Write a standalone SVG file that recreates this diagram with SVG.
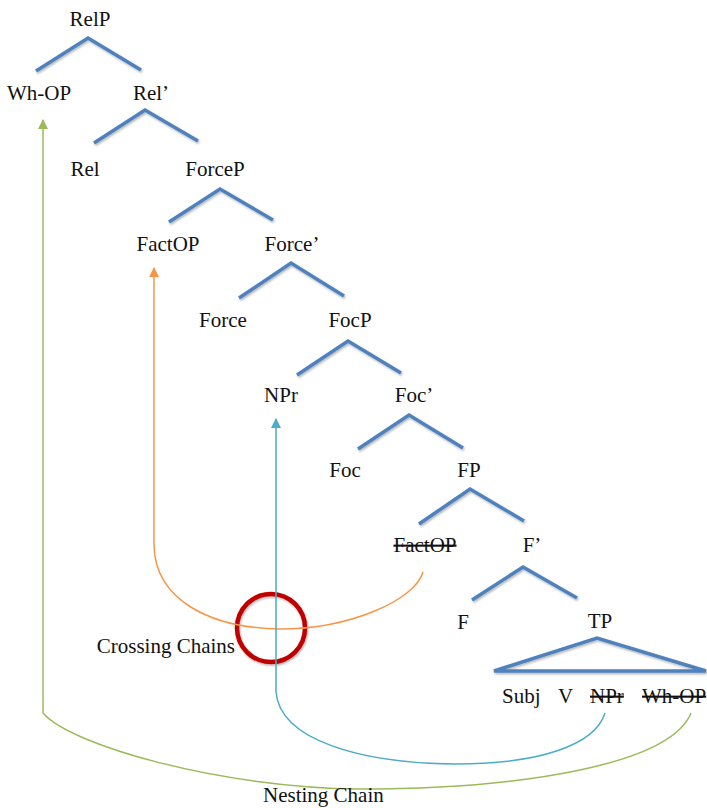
<svg xmlns="http://www.w3.org/2000/svg" width="707" height="808" viewBox="0 0 707 808">
<style>
text{font-family:"Liberation Serif","Times New Roman",serif;font-size:21px;fill:#111;}
.c{text-anchor:middle;}
.s{text-decoration:line-through;}
.br{fill:none;stroke:#4f81bd;stroke-width:3.5;stroke-linejoin:miter;}
.ch{fill:none;stroke-width:1.5;}
</style>
<defs>
<filter id="sh" x="-20%" y="-20%" width="140%" height="140%"><feDropShadow dx="1" dy="1.5" stdDeviation="1" flood-color="#000" flood-opacity="0.3"/></filter>
<marker id="ag" viewBox="0 0 10 10" refX="9" refY="5" markerWidth="10" markerHeight="10" markerUnits="userSpaceOnUse" orient="auto"><path d="M0,0L10,5L0,10z" fill="#9bbb59"/></marker>
<marker id="ab" viewBox="0 0 10 10" refX="9" refY="5" markerWidth="10" markerHeight="10" markerUnits="userSpaceOnUse" orient="auto"><path d="M0,0L10,5L0,10z" fill="#4bacc6"/></marker>
<marker id="ao" viewBox="0 0 10 10" refX="9" refY="5" markerWidth="10" markerHeight="10" markerUnits="userSpaceOnUse" orient="auto"><path d="M0,0L10,5L0,10z" fill="#f79646"/></marker>
</defs>
<g id="branches" filter="url(#sh)">
<polyline class="br" points="36,71 88,38 141,70"/>
<polyline class="br" points="94,143 145,110 198,141"/>
<polyline class="br" points="169,222 220,189 273,220"/>
<polyline class="br" points="239,298 291,263 344,296"/>
<polyline class="br" points="297,375 348,341 401,373"/>
<polyline class="br" points="358,449 409,415 463,448"/>
<polyline class="br" points="419,524 470,489 524,521"/>
<polyline class="br" points="472,600 523,567 577,598"/>
<polygon class="br" points="494,671 597,638 706,671"/>
</g>
<g id="n-RelP"><text class="c" x="90" y="26">RelP</text></g>
<g id="n-WhOP"><text class="c" x="39" y="100">Wh-OP</text></g>
<g id="n-RelBar"><text class="c" x="151" y="100">Rel’</text></g>
<g id="n-Rel"><text class="c" x="85" y="176">Rel</text></g>
<g id="n-ForceP"><text class="c" x="215" y="176">ForceP</text></g>
<g id="n-FactOP"><text class="c" x="168" y="251">FactOP</text></g>
<g id="n-ForceBar"><text class="c" x="292" y="251">Force’</text></g>
<g id="n-Force"><text class="c" x="223" y="327">Force</text></g>
<g id="n-FocP"><text class="c" x="350" y="327">FocP</text></g>
<g id="n-NPr"><text class="c" x="281" y="402">NPr</text></g>
<g id="n-FocBar"><text class="c" x="414" y="402">Foc’</text></g>
<g id="n-Foc"><text class="c" x="345" y="477">Foc</text></g>
<g id="n-FP"><text class="c" x="469" y="477">FP</text></g>
<g id="n-FactOP-trace"><text class="c s" x="425" y="552">FactOP</text></g>
<g id="n-FBar"><text class="c" x="532" y="552">F’</text></g>
<g id="n-F"><text class="c" x="463" y="629">F</text></g>
<g id="n-TP"><text class="c" x="600" y="628">TP</text></g>
<g id="n-terminals">
<text x="502" y="703">Subj</text>
<text x="558" y="703">V</text>
<text class="s" x="590" y="703">NPr</text>
<text class="s" x="642" y="703">Wh-OP</text>
</g>
<g id="crossing-circle"><circle cx="271" cy="628" r="34" fill="none" stroke="#c00000" stroke-width="4.5" filter="url(#sh)"/></g>
<g id="connectors">
<path class="ch" stroke="#f79646" marker-end="url(#ao)" d="M423,572 C415,600 350,629 280,629 C210,628 155,600 154,545 L154,268"/>
<path class="ch" stroke="#4bacc6" marker-end="url(#ab)" d="M605,713 C595,745 540,764 455,764 C360,763 280,740 276,692 L276,419"/>
<path class="ch" stroke="#9bbb59" marker-end="url(#ag)" d="M691,713 C670,765 520,789 360,789 C220,788 70,745 43,713 L43,120"/>
</g>
<g id="labels">
<text x="235" y="653" text-anchor="end">Crossing Chains</text>
<text x="263" y="802">Nesting Chain</text>
</g>
</svg>
